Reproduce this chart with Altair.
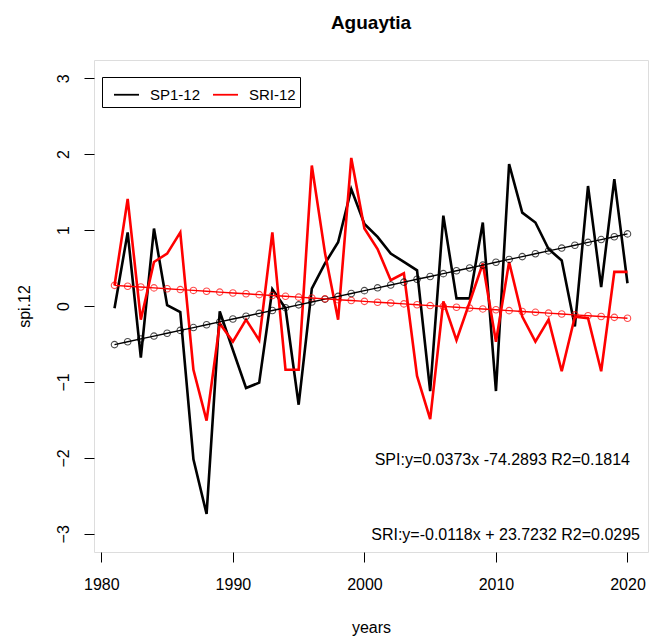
import altair as alt
import pandas as pd

years = list(range(1981, 2021))
spi = [-0.03, 0.97, -0.68, 1.02, 0.01, -0.08, -2.02, -2.74, -0.07, -0.58,
       -1.08, -1.01, 0.22, -0.03, -1.30, 0.23, 0.56, 0.84, 1.54, 1.08,
       0.91, 0.69, 0.58, 0.47, -1.12, 1.19, 0.10, 0.10, 1.10, -1.12,
       1.87, 1.23, 1.10, 0.75, 0.60, -0.27, 1.58, 0.25, 1.67, 0.30]
sri = [0.27, 1.41, -0.18, 0.58, 0.69, 0.97, -0.84, -1.51, -0.23, -0.47,
       -0.18, -0.45, 0.97, -0.84, -0.84, 1.85, 0.70, -0.18, 1.95, 1.02,
       0.75, 0.34, 0.43, -0.92, -1.49, 0.06, -0.45, 0.05, 0.56, -0.47,
       0.58, -0.14, -0.47, -0.18, -0.86, -0.14, -0.16, -0.86, 0.45, 0.45]
series_names = ["SP1-12", "SRI-12"]
series_colors = ["black", "red"]
eq_texts = ["SPI:y=0.0373x -74.2893 R2=0.1814", "SRI:y=-0.0118x + 23.7232 R2=0.0295"]

df = pd.concat([
    pd.DataFrame({"year": years, "value": spi, "series": series_names[0]}),
    pd.DataFrame({"year": years, "value": sri, "series": series_names[1]}),
])

FONT = "Liberation Sans"

xscale = alt.Scale(domain=[1979.44, 2021.56], nice=False, zero=False)
yscale = alt.Scale(domain=[-3.24, 3.24], nice=False, zero=False)

xaxis = alt.Axis(values=[1980, 1990, 2000, 2010, 2020], format="d", title="years",
                 grid=False, domain=False, tickColor="black", tickSize=10,
                 labelFontSize=16, labelColor="black", labelPadding=14, labelFont=FONT,
                 titleFontSize=16, titleFont=FONT, titleFontWeight="normal", titleColor="black",
                 titleY=75, titleBaseline="middle")
yaxis = alt.Axis(values=[-3, -2, -1, 0, 1, 2, 3], format="d", title="spi.12",
                 grid=False, domain=False, tickColor="black", tickSize=10,
                 labelAngle=-90, labelAlign="center", labelBaseline="middle",
                 labelFontSize=16, labelColor="black", labelPadding=21, labelFont=FONT,
                 titleFontSize=16, titleFont=FONT, titleFontWeight="normal", titleColor="black",
                 titleX=-70, titleY=246, titleAngle=-90, titleAlign="center",
                 titleBaseline="middle")

base = alt.Chart(df)

data_lines = base.mark_line(strokeWidth=2.6).encode(
    x=alt.X("year:Q", scale=xscale, axis=xaxis),
    y=alt.Y("value:Q", scale=yscale, axis=yaxis),
    color=alt.Color("series:N",
                    scale=alt.Scale(domain=series_names, range=series_colors),
                    legend=alt.Legend(orient="none", legendX=8, legendY=17,
                                      direction="horizontal", title=None,
                                      strokeColor="black", fillColor="white",
                                      padding=4, symbolOffset=7, symbolType="stroke",
                                      symbolStrokeWidth=1.8, symbolSize=625,
                                      labelFontSize=15, labelFont=FONT, labelColor="black",
                                      labelOffset=10, columnPadding=4)),
)

trend_base = base.transform_joinaggregate(
    mx="mean(year)", my="mean(value)", groupby=["series"]
).transform_calculate(
    dx="datum.year - datum.mx",
    dxy="(datum.year - datum.mx) * (datum.value - datum.my)",
    dxx="(datum.year - datum.mx) * (datum.year - datum.mx)",
).transform_joinaggregate(
    sxy="sum(dxy)", sxx="sum(dxx)", groupby=["series"]
).transform_calculate(
    fit="datum.my + datum.sxy / datum.sxx * datum.dx"
)

trend_enc = dict(
    x=alt.X("year:Q", scale=xscale),
    y=alt.Y("fit:Q", scale=yscale),
    stroke=alt.Stroke("series:N",
                      scale=alt.Scale(domain=series_names, range=series_colors),
                      legend=None),
    detail="series:N",
)
trend_pts = trend_base.mark_point(shape="circle", filled=False, size=42, strokeWidth=1.1).encode(**trend_enc)
trend_line = trend_base.mark_line(strokeWidth=1.4).encode(**trend_enc)

eq1 = alt.Chart(pd.DataFrame({"t": [eq_texts[0]]})).mark_text(
    align="right", baseline="middle", fontSize=16, font=FONT, color="black"
).encode(text="t:N", x=alt.value(536), y=alt.value(400))
eq2 = alt.Chart(pd.DataFrame({"t": [eq_texts[1]]})).mark_text(
    align="right", baseline="middle", fontSize=16, font=FONT, color="black"
).encode(text="t:N", x=alt.value(546), y=alt.value(475))

chart = alt.layer(data_lines, trend_pts, trend_line, eq1, eq2).properties(
    width=554, height=492,
    title=alt.TitleParams("Aguaytia", fontSize=19, fontWeight="bold", font=FONT,
                          color="black", anchor="middle", baseline="middle", offset=18),
    autosize=alt.AutoSizeParams(type="none"),
    padding={"left": 94, "top": 60, "right": 2, "bottom": 87},
).configure_view(stroke="black", strokeWidth=1.2).configure(background="white")

chart.save("out.html", embed_options={"renderer": "svg", "actions": False})
